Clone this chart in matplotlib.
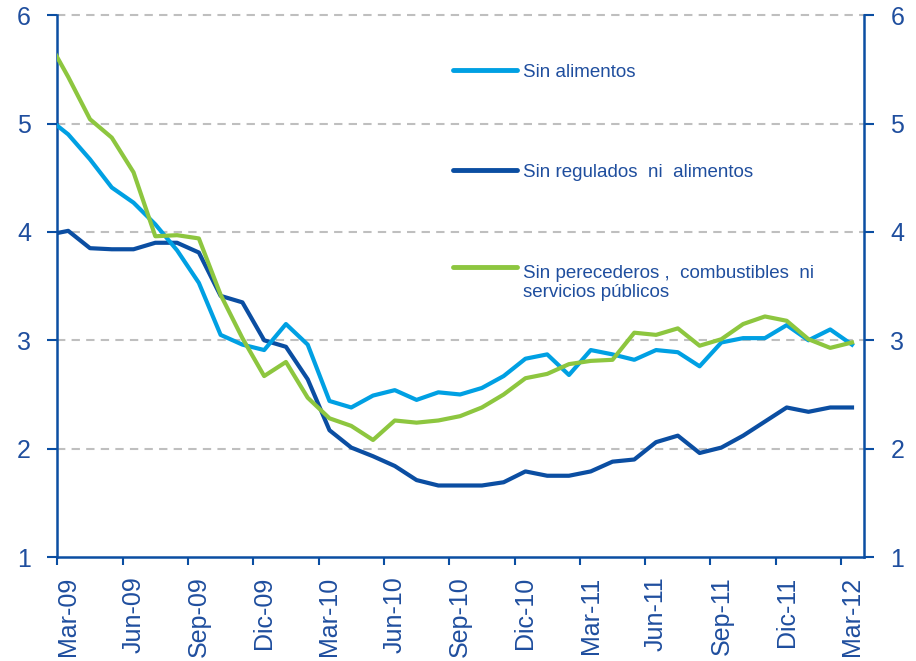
import numpy as np
import matplotlib
matplotlib.use("Agg")
import matplotlib.pyplot as plt

plt.rcParams['font.family'] = ['Liberation Sans', 'DejaVu Sans']

# meses: Feb-09 .. Mar-12 (el primer punto queda recortado por el eje)
meses = np.arange(-1, 37)

sin_alimentos = [5.06, 4.90, 4.67, 4.41, 4.27, 4.07, 3.83, 3.53, 3.05, 2.96, 2.91,
                 3.15, 2.96, 2.44, 2.38, 2.49, 2.54, 2.45, 2.52, 2.50, 2.56, 2.67,
                 2.83, 2.87, 2.68, 2.91, 2.87, 2.82, 2.91, 2.89, 2.76, 2.98, 3.02,
                 3.02, 3.14, 3.00, 3.10, 2.96]
sin_regulados = [3.97, 4.01, 3.85, 3.84, 3.84, 3.90, 3.90, 3.81, 3.41, 3.35, 3.00,
                 2.94, 2.64, 2.17, 2.01, 1.93, 1.84, 1.71, 1.66, 1.66, 1.66, 1.69,
                 1.79, 1.75, 1.75, 1.79, 1.88, 1.90, 2.06, 2.12, 1.96, 2.01, 2.12,
                 2.25, 2.38, 2.34, 2.38, 2.38]
sin_perecederos = [5.79, 5.43, 5.04, 4.87, 4.55, 3.96, 3.97, 3.94, 3.42, 3.02, 2.67,
                   2.80, 2.47, 2.28, 2.21, 2.08, 2.26, 2.24, 2.26, 2.30, 2.38, 2.50,
                   2.65, 2.69, 2.78, 2.81, 2.82, 3.07, 3.05, 3.11, 2.95, 3.01, 3.15,
                   3.22, 3.18, 3.01, 2.93, 2.98]

etiquetas = ['Mar-09', 'Jun-09', 'Sep-09', 'Dic-09', 'Mar-10', 'Jun-10', 'Sep-10',
             'Dic-10', 'Mar-11', 'Jun-11', 'Sep-11', 'Dic-11', 'Mar-12']

azul = '#0B4EA2'
celeste = '#00A0E3'
verde = '#8DC63F'
texto = '#1F4E9E'

fig = plt.figure(figsize=(9.16, 6.61), dpi=100)
ax = fig.add_axes([0.0626, 0.1573, 0.8806, 0.8197])

x = meses + 0.5
ax.plot(x, sin_regulados, color=azul, lw=3, solid_joinstyle='round', zorder=3)
ax.plot(x, sin_alimentos, color=celeste, lw=3, solid_joinstyle='round', zorder=3)
ax.plot(x, sin_perecederos, color=verde, lw=3, solid_joinstyle='round', zorder=4)

ax.set_xlim(0, 37.05)
ax.set_ylim(1, 6)
for v in [2, 3, 4, 5, 6]:
    ax.axhline(v, color='#BFBFBF', lw=1.5, ls=(0, (4, 3)), zorder=1, clip_on=False)

ax.set_yticks([1, 2, 3, 4, 5, 6])
ax.tick_params(axis='y', which='both', direction='out', length=7, width=1.5,
               color=azul, labelcolor=texto, labelsize=18, left=True, right=True,
               labelleft=True, labelright=True, pad=12)

# marcas entre categorias, etiquetas centradas en el mes
ax.set_xticks(np.arange(0, 37, 3))
ax.set_xticklabels([])
ax.set_xticks(np.arange(0, 37, 3) + 0.5, minor=True)
ax.set_xticklabels(etiquetas, minor=True, rotation=90, fontsize=18, color=texto)
ax.tick_params(axis='x', which='major', direction='out', length=6, width=1.5, color=azul)
ax.tick_params(axis='x', which='minor', length=0, pad=14)

ax.spines['top'].set_visible(False)
for s in ['left', 'right', 'bottom']:
    ax.spines[s].set_color(azul)
    ax.spines[s].set_linewidth(1.8)

# leyenda manual
entradas = [(celeste, 'Sin alimentos', 0.8985),
            (azul, 'Sin regulados  ni  alimentos', 0.714),
            (verde, 'Sin perecederos ,  combustibles  ni\nservicios públicos', 0.535)]
for color, nombre, yy in entradas:
    ax.plot([0.490, 0.570], [yy, yy], color=color, lw=3.5, transform=ax.transAxes,
            solid_capstyle='round')
    dos_lineas = '\n' in nombre
    ax.text(0.577, yy + (0.004 if dos_lineas else -0.004), nombre, transform=ax.transAxes,
            color=texto, fontsize=13.5, va='top' if dos_lineas else 'center',
            linespacing=1.15)

fig.savefig('out.png', dpi=100)
